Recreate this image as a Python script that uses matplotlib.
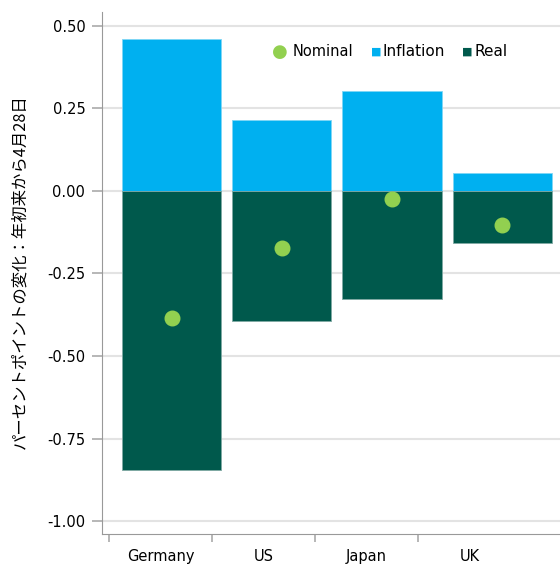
import numpy as np
import matplotlib.pyplot as plt

countries = ['Germany', 'US', 'Japan', 'UK']
inflation = [0.46, 0.216, 0.304, 0.054]
real = [-0.845, -0.393, -0.326, -0.158]
nominal = [-0.385, -0.172, -0.023, -0.103]

c_infl = '#00B0F0'
c_real = '#00594C'
c_nom = '#92D050'

plt.rcParams['font.family'] = ['DejaVu Sans', 'Noto Sans CJK JP']

fig = plt.figure(figsize=(5.6, 5.67), dpi=100)
ax = fig.add_axes([102/560, 1-534/567, 458/560, 522/567])

x = np.arange(len(countries))
ax.bar(x, inflation, width=0.9, color=c_infl, edgecolor='#7fd6f5', linewidth=0.6, zorder=2)
ax.bar(x, real, width=0.9, color=c_real, edgecolor='#7fa9a3', linewidth=0.6, zorder=2)
ax.scatter(x, nominal, s=110, color=c_nom, zorder=3)

ax.set_xlim(-0.636, 3.527)
ax.set_ylim(-1.039, 0.542)
ax.set_yticks([0.5, 0.25, 0.0, -0.25, -0.5, -0.75, -1.0])
ax.set_yticklabels(['0.50', '0.25', '0.00', '-0.25', '-0.50', '-0.75', '-1.00'], fontsize=10.5)
ax.grid(axis='y', color='#e3e3e3', linewidth=1.5, zorder=0)
ax.set_axisbelow(True)

# category tick marks sit between labels, on a slightly narrower spacing than the bars
step = 103 / 110
ticks = -0.573 + step * np.arange(4)
ax.set_xticks(ticks)
ax.set_xticklabels([])
ax.set_xticks(ticks + step / 2, minor=True)
ax.set_xticklabels(countries, minor=True, fontsize=10.5)
ax.tick_params(axis='x', which='major', length=6, color='#aaaaaa', width=1.2)
ax.tick_params(axis='x', which='minor', length=0, pad=11)
ax.tick_params(axis='y', length=7, color='#aaaaaa', width=1.2, pad=5)

for s in ['top', 'right']:
    ax.spines[s].set_visible(False)
for s in ['left', 'bottom']:
    ax.spines[s].set_color('#999999')

fig.text(20/560, 1-272/567, 'パーセントポイントの変化：年初来から4月28日',
         rotation=90, ha='center', va='center', fontsize=11.8,
         family=['Noto Sans CJK JP', 'DejaVu Sans'])

# legend
ly = 1 - 52/567
fig.text(280/560, ly, '●', color=c_nom, fontsize=13, ha='center', va='center')
fig.text(293/560, ly, 'Nominal', fontsize=10.5, ha='left', va='center')
fig.text(376/560, ly, '■', color=c_infl, fontsize=8, ha='center', va='center')
fig.text(383/560, ly, 'Inflation', fontsize=11, ha='left', va='center')
fig.text(467/560, ly, '■', color=c_real, fontsize=8, ha='center', va='center')
fig.text(474/560, ly, 'Real', fontsize=11, ha='left', va='center')

plt.savefig('out.png', dpi=100)
